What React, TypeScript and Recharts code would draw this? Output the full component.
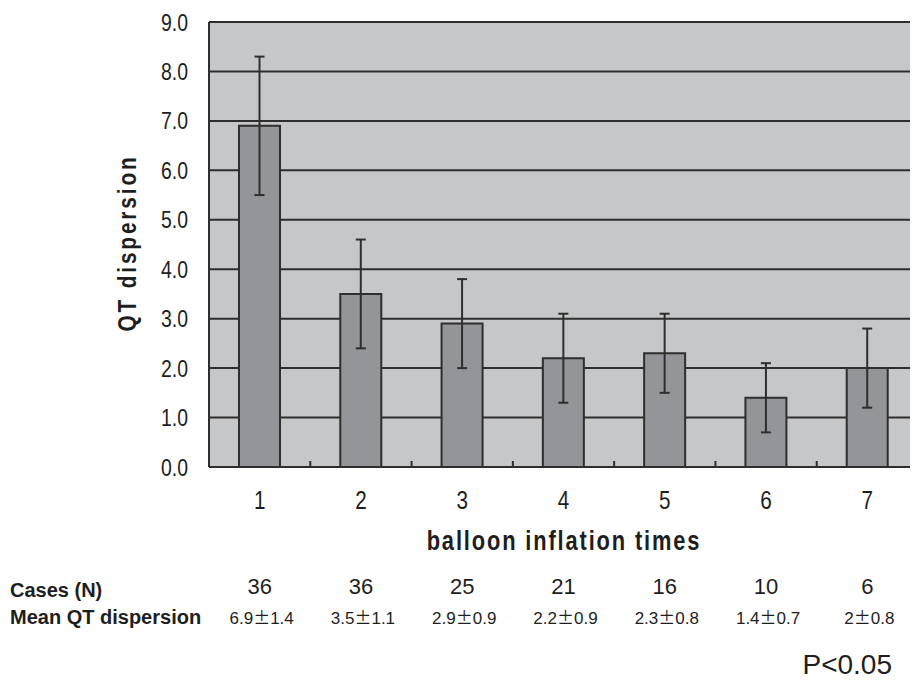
import React from 'react';
import { BarChart, Bar, XAxis, YAxis, CartesianGrid, ErrorBar, Customized } from 'recharts';

const categories = ['1', '2', '3', '4', '5', '6', '7'];
const meanValues = [6.9, 3.5, 2.9, 2.2, 2.3, 1.4, 2.0];
const sdValues = [1.4, 1.1, 0.9, 0.9, 0.8, 0.7, 0.8];
const casesN = [36, 36, 25, 21, 16, 10, 6];
const meanLabels = ['6.9±1.4', '3.5±1.1', '2.9±0.9', '2.2±0.9', '2.3±0.8', '1.4±0.7', '2±0.8'];
const yTicks = [0, 1, 2, 3, 4, 5, 6, 7, 8, 9];

const data = categories.map((c, i) => ({ cat: c, mean: meanValues[i], sd: sdValues[i] }));

const SANS = "'Liberation Sans', Arial, sans-serif";
const DARK = '#2e2e2e';
const TEXT = '#1e1e1e';

function CategoryTick(props: any) {
  const { x, y, payload, index } = props;
  const i = categories.indexOf(String(payload.value));
  const label = meanLabels[i] || '';
  const parts = label.split('±');
  const half = payload.offset || 0;
  return (
    <g>
      {index < categories.length - 1 && half > 0 ? (
        <line x1={x + half} x2={x + half} y1={y} y2={y - 6} stroke={DARK} strokeWidth={2} />
      ) : null}
      <text
        x={x}
        y={y + 42}
        textAnchor="middle"
        fontFamily={SANS}
        fontSize={25}
        textLength={11.5 * String(payload.value).length}
        lengthAdjust="spacingAndGlyphs"
        fill={TEXT}
      >
        {payload.value}
      </text>
      <text x={x} y={y + 127} textAnchor="middle" fontFamily={SANS} fontSize={22} fill={TEXT}>
        {casesN[i]}
      </text>
      <text x={x + 2} y={y + 157} textAnchor="middle" fontFamily={SANS} fontSize={17} fill={TEXT}>
        <tspan>{parts[0]}</tspan>
        <tspan fontFamily="'Noto Sans CJK JP', sans-serif">±</tspan>
        <tspan>{parts[1]}</tspan>
      </text>
    </g>
  );
}

function ValueTick(props: any) {
  const { x, y, payload } = props;
  const s = Number(payload.value).toFixed(1);
  return (
    <text
      x={x}
      y={y}
      dy="0.355em"
      textAnchor="end"
      fontFamily={SANS}
      fontSize={24}
      textLength={27}
      lengthAdjust="spacingAndGlyphs"
      fill={TEXT}
    >
      {s}
    </text>
  );
}

function Annotations() {
  return (
    <g>
      <g transform="translate(119 235) rotate(-90) scale(0.8 1)">
        <text
          x={0}
          y={0}
          textAnchor="middle"
          dominantBaseline="central"
          fontFamily={SANS}
          fontWeight="bold"
          fontSize={26}
          letterSpacing={3.6}
          fill={TEXT}
        >
          QT dispersion
        </text>
      </g>
      <g transform="translate(556 542) scale(0.78 1)">
        <text
          x={0}
          y={0}
          textAnchor="middle"
          fontFamily={SANS}
          fontWeight="bold"
          fontSize={28}
          letterSpacing={2.4}
          fill={TEXT}
        >
          balloon inflation times
        </text>
      </g>
      <text x={2} y={589} fontFamily={SANS} fontWeight="bold" fontSize={20} fill={TEXT}>
        Cases (N)
      </text>
      <text x={2} y={616} fontFamily={SANS} fontWeight="bold" fontSize={20} fill={TEXT}>
        Mean QT dispersion
      </text>
      <text x={884} y={666} textAnchor="end" fontFamily={SANS} fontSize={28} fill={TEXT}>
        P&lt;0.05
      </text>
    </g>
  );
}

export default function App() {
  return (
    <div style={{ width: 910, height: 672, background: '#fff' }}>
      <BarChart width={910} height={672} data={data} margin={{ top: 14, right: 0, bottom: 0, left: 0 }}>
        <CartesianGrid vertical={false} fill="#c6c7c9" stroke={DARK} strokeWidth={2} horizontalValues={yTicks} />
        <XAxis
          dataKey="cat"
          height={213}
          tickLine={false}
          tickSize={0}
          tickMargin={0}
          axisLine={{ stroke: DARK, strokeWidth: 2 }}
          tick={<CategoryTick />}
          interval={0}
        />
        <YAxis
          width={201}
          domain={[0, 9]}
          ticks={yTicks}
          interval={0}
          tickLine={false}
          tickSize={0}
          tickMargin={21}
          axisLine={{ stroke: DARK, strokeWidth: 2 }}
          tick={<ValueTick />}
        />
        <Bar dataKey="mean" barSize={41} fill="#949598" stroke={DARK} strokeWidth={2} isAnimationActive={false}>
          <ErrorBar dataKey="sd" width={5} stroke={DARK} strokeWidth={2} direction="y" isAnimationActive={false} />
        </Bar>
        <Customized component={Annotations} />
      </BarChart>
    </div>
  );
}
